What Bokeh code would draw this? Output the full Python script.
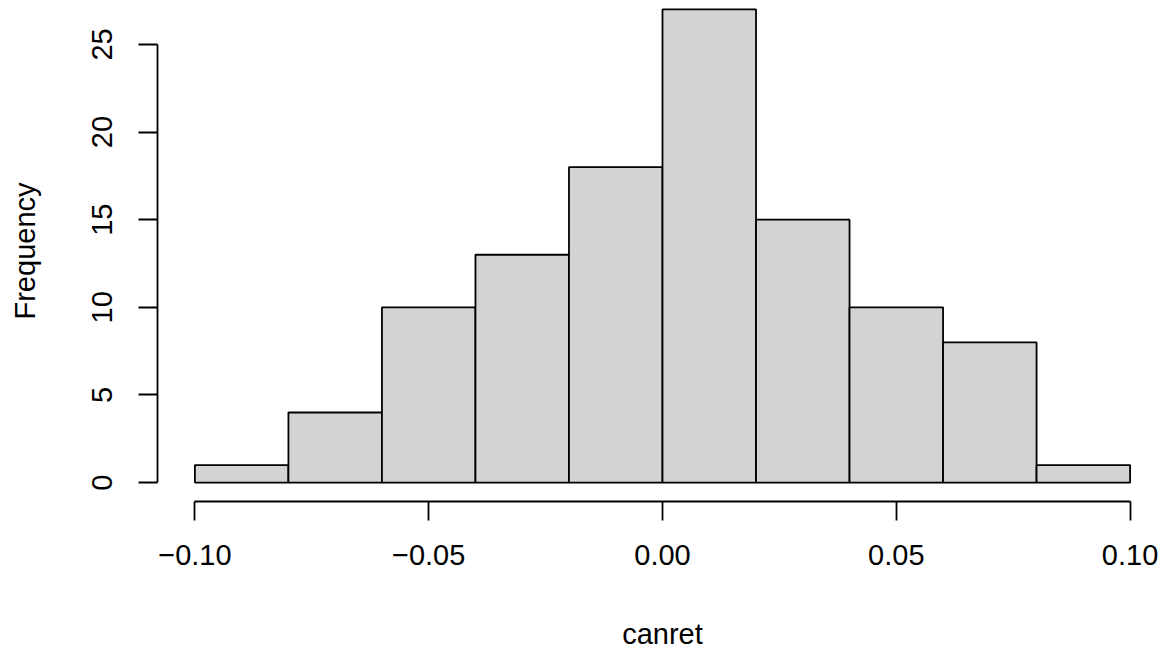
from bokeh.plotting import figure
from bokeh.models import Range1d, FixedTicker, ColumnDataSource
from bokeh.embed import file_html
from bokeh.resources import INLINE

# Histogram data (canret)
bin_edges = [-0.10, -0.08, -0.06, -0.04, -0.02, 0.00, 0.02, 0.04, 0.06, 0.08, 0.10]
counts = [1, 4, 10, 13, 18, 27, 15, 10, 8, 1]
x_ticks = [-0.10, -0.05, 0.00, 0.05, 0.10]
x_tick_labels = ["\u22120.10", "\u22120.05", "0.00", "0.05", "0.10"]
y_ticks = [0, 5, 10, 15, 20, 25]
y_tick_labels = ["0", "5", "10", "15", "20", "25"]

FONT = "Liberation Sans"
FS = "29px"

src = ColumnDataSource(dict(left=bin_edges[:-1], right=bin_edges[1:], top=counts,
                            bottom=[0] * len(counts)))

p = figure(width=1169, height=654, output_backend="svg", toolbar_location=None,
           x_range=Range1d(-0.108, 0.108), y_range=Range1d(-1.08, 27.51),
           min_border_left=157, min_border_right=2, min_border_top=0, min_border_bottom=153)
p.outline_line_color = None
p.grid.visible = False
p.background_fill_color = "white"
p.border_fill_color = "white"

p.quad(left="left", right="right", top="top", bottom="bottom", source=src,
       fill_color="#D3D3D3", line_color="black", line_width=1.8)

for ax in (p.xaxis[0], p.yaxis[0]):
    ax.axis_line_color = "black"
    ax.axis_line_width = 1.8
    ax.major_tick_line_width = 1.8
    ax.major_tick_line_color = "black"
    ax.major_tick_out = 19
    ax.major_tick_in = 0
    ax.minor_tick_line_color = None
    ax.major_label_text_font = FONT
    ax.major_label_text_font_size = FS
    ax.major_label_text_color = "black"
    ax.axis_label_text_font = FONT
    ax.axis_label_text_font_size = FS
    ax.axis_label_text_font_style = "normal"
    ax.axis_label_text_color = "black"

xa = p.xaxis[0]
xa.bounds = (bin_edges[0], bin_edges[-1])
xa.ticker = FixedTicker(ticks=x_ticks)
xa.major_label_overrides = {t: l for t, l in zip(x_ticks, x_tick_labels)}
xa.major_label_standoff = 24
xa.axis_label = "canret"
xa.axis_label_standoff = 50

ya = p.yaxis[0]
ya.bounds = (y_ticks[0], y_ticks[-1])
ya.ticker = FixedTicker(ticks=y_ticks)
ya.major_label_overrides = {t: l for t, l in zip(y_ticks, y_tick_labels)}
ya.major_label_orientation = "vertical"
ya.major_label_standoff = 26
ya.axis_label = "Frequency"
ya.axis_label_standoff = 49

open("out.html", "w").write(file_html(p, INLINE))
